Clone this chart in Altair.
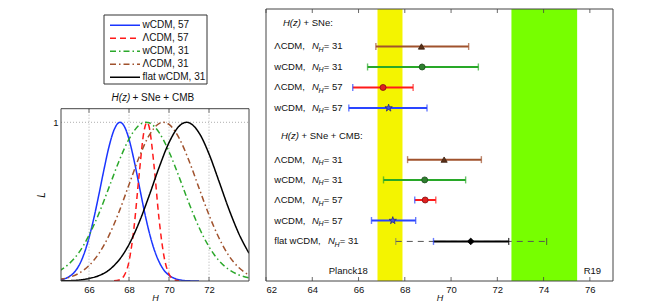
import altair as alt
import pandas as pd

FONT = "Liberation Sans"

# ---------------- left panel data: normalised likelihood L(H) ----------------
series_names = ["wCDM, 57", "ΛCDM, 57", "wCDM, 31", "ΛCDM, 31", "flat wCDM, 31"]
series_colors = ["#1a35ff", "#ff1a1a", "#2ba82b", "#a0522d", "#000000"]
series_dashes = [[1, 0], [6, 4], [6, 3, 1.5, 3], [6, 3, 1.5, 3], [1, 0]]

wcdm57_H = [64.5, 64.75, 65.0, 65.25, 65.5, 65.75, 66.0, 66.25, 66.5, 66.75, 67.0, 67.25, 67.55,
            67.75, 68.0, 68.25, 68.5, 68.75, 69.0, 69.25, 69.5, 69.75, 70.0, 70.25, 70.5, 70.75,
            71.0, 71.5]
wcdm57_L = [0.006, 0.013, 0.027, 0.053, 0.098, 0.170, 0.272, 0.40, 0.548, 0.703, 0.846, 0.951, 1.0,
            0.978, 0.894, 0.762, 0.607, 0.450, 0.312, 0.202, 0.122, 0.068, 0.036, 0.018, 0.008, 0.003,
            0.001, 0.0]

lcdm57_H = [67.25, 67.5, 67.75, 68.0, 68.25, 68.5, 68.75, 68.9, 69.0, 69.25, 69.5, 69.75, 70.0, 70.25, 70.5]
lcdm57_L = [0.001, 0.006, 0.033, 0.123, 0.336, 0.661, 0.943, 1.0, 0.975, 0.729, 0.394, 0.155, 0.044, 0.009, 0.001]

wcdm31_H = [64.5, 65.0, 65.5, 66.0, 66.5, 67.0, 67.5, 68.0, 68.5, 68.85, 69.0, 69.5, 70.0, 70.5,
            71.0, 71.5, 72.0, 72.5, 73.0, 73.5, 74.0]
wcdm31_L = [0.062, 0.108, 0.180, 0.288, 0.427, 0.590, 0.755, 0.894, 0.981, 1.0, 0.997, 0.937, 0.815,
            0.657, 0.490, 0.338, 0.216, 0.128, 0.072, 0.038, 0.020]

lcdm31_H = [64.5, 65.0, 65.5, 66.0, 66.5, 67.0, 67.5, 68.0, 68.5, 69.0, 69.5, 69.72, 70.0, 70.5,
            71.0, 71.5, 72.0, 72.5, 73.0, 73.5, 74.0]
lcdm31_L = [0.010, 0.023, 0.049, 0.097, 0.174, 0.287, 0.435, 0.607, 0.778, 0.916, 0.992, 1.0, 0.987,
            0.902, 0.758, 0.586, 0.416, 0.271, 0.158, 0.083, 0.038]

flat31_H = [64.5, 65.0, 65.5, 66.0, 66.5, 67.0, 67.5, 68.0, 68.5, 69.0, 69.5, 70.0, 70.5, 70.88,
            71.0, 71.5, 72.0, 72.5, 73.0, 73.5, 74.0]
flat31_L = [0.001, 0.002, 0.006, 0.016, 0.034, 0.069, 0.132, 0.230, 0.367, 0.535, 0.714, 0.872, 0.975,
            1.0, 0.997, 0.934, 0.801, 0.628, 0.451, 0.296, 0.175]

left_ticks = [66, 68, 70, 72]

# ---------------- right panel data: H constraints ----------------
row_prefix = ["ΛCDM,", "wCDM,", "ΛCDM,", "wCDM,", "ΛCDM,", "wCDM,", "ΛCDM,", "wCDM,", "flat wCDM,"]
row_nh = ["31", "31", "57", "57", "31", "31", "57", "57", "31"]
row_pos = [1.13, 2.13, 3.13, 4.13, 6.65, 7.64, 8.62, 9.62, 10.64]
row_mid = [68.72, 68.75, 67.06, 67.30, 69.70, 68.86, 68.88, 67.48, 70.85]
row_lo = [66.75, 66.39, 65.75, 65.58, 68.12, 67.08, 68.43, 66.56, 69.24]
row_hi = [70.76, 71.18, 68.36, 68.96, 71.31, 70.63, 69.34, 68.47, 72.49]
flat_wide_lo = [67.61]
flat_wide_hi = [74.13]
flat_wide_pos = [10.64]

header_pos = [0.0, 5.5]
header_head = ["H(z)", "H(z)"]
header_tail = ["+ SNe:", "+ SNe + CMB:"]

band_names = ["Planck18", "R19"]
band_lo = [66.82, 72.61]
band_hi = [67.90, 75.45]
band_label_pos = [12.1, 12.1]

right_ticks = [62, 64, 66, 68, 70, 72, 74, 76]

# ---------------- styles ----------------
BROWN, GREEN, RED, BLUE, BLACK = "#a0522d", "#28a828", "#ff1a1a", "#2a45ff", "#000000"
row_line_color = [BROWN, GREEN, RED, BLUE, BROWN, GREEN, RED, BLUE, BLACK]
row_cap_lo_color = [BROWN, GREEN, BLUE, BLUE, BROWN, GREEN, BLUE, BLUE, BLUE]
row_cap_hi_color = [BROWN, GREEN, RED, BLUE, BROWN, GREEN, RED, BLUE, BLACK]
STAR = ("M0,-1L0.2245,-0.309L0.951,-0.309L0.363,0.118L0.588,0.809L0,0.382L-0.588,0.809"
        "L-0.363,0.118L-0.951,-0.309L-0.2245,-0.309Z")
row_marker = ["triangle-up", "circle", "circle", STAR, "triangle-up", "circle", "circle", STAR, "diamond"]
row_mfill = ["#5a3016", "#2f7f2f", "#e02020", "#4455dd", "#5a3016", "#2f7f2f", "#e02020", "#4455dd", "#000000"]
row_medge = ["#3a2010", "#1d4d1d", "#801010", "#2a2a80", "#3a2010", "#1d4d1d", "#801010", "#2a2a80", "#000000"]
row_msize = [38, 36, 36, 60, 38, 36, 36, 60, 45]
band_colors = ["#f4f400", "#77ff00"]

W_L, W_R, H_ALL = 188, 347, 272
L_MAX = 1.714
LEFT_TOP_PX = 99.7
FRAME = "#444444"

one = pd.DataFrame({"k": [0]})

axis_x_common = dict(grid=False, domain=False, ticks=False, labelFont=FONT, labelFontSize=9.5,
                     labelPadding=3, labelColor="#111", title="H", titleFont=FONT,
                     titleFontStyle="italic", titleFontWeight="normal", titleFontSize=9,
                     titlePadding=0, titleColor="#111")

# ---------------- left panel ----------------
curve_frames = []
for name, hs, ls in zip(series_names,
                        [wcdm57_H, lcdm57_H, wcdm31_H, lcdm31_H, flat31_H],
                        [wcdm57_L, lcdm57_L, wcdm31_L, lcdm31_L, flat31_L]):
    curve_frames.append(pd.DataFrame({"series": name, "H": hs, "L": ls}))
curves = pd.concat(curve_frames, ignore_index=True)

xs_L = alt.Scale(domain=[64.6, 74.0], nice=False, zero=False)
ys_L = alt.Scale(domain=[0, L_MAX], nice=False, zero=False)
col_scale = alt.Scale(domain=series_names, range=series_colors)
dash_scale = alt.Scale(domain=series_names, range=series_dashes)

bg_left = alt.Chart(one).mark_rect(fill="white", opacity=0).encode(
    x=alt.value(0), x2=alt.value(W_L), y=alt.value(0), y2=alt.value(H_ALL))

tick_df_L = pd.DataFrame({"t": left_ticks})
grid_v = alt.Chart(tick_df_L).mark_rule(color="#9a9a9a", strokeDash=[1, 2], strokeWidth=0.8).encode(
    x=alt.X("t:Q", scale=xs_L), y=alt.value(LEFT_TOP_PX), y2=alt.value(H_ALL))
grid_h = alt.Chart(one).mark_rule(color="#9a9a9a", strokeDash=[1, 2], strokeWidth=0.8).encode(
    y=alt.datum(1, scale=ys_L), x=alt.value(0), x2=alt.value(W_L))
ticks_bot = alt.Chart(tick_df_L).mark_rule(color=FRAME, strokeWidth=0.8).encode(
    x=alt.X("t:Q", scale=xs_L), y=alt.value(H_ALL), y2=alt.value(H_ALL - 4))
ticks_top = alt.Chart(tick_df_L).mark_rule(color=FRAME, strokeWidth=0.8).encode(
    x=alt.X("t:Q", scale=xs_L), y=alt.value(LEFT_TOP_PX), y2=alt.value(LEFT_TOP_PX + 4))

lines = alt.Chart(curves).mark_line(strokeWidth=1.5, clip=True, interpolate="monotone").encode(
    x=alt.X("H:Q", scale=xs_L, axis=alt.Axis(values=left_ticks, **axis_x_common)),
    y=alt.Y("L:Q", scale=ys_L,
            axis=alt.Axis(values=[1], format="d", grid=False, domain=False, ticks=False,
                          labelFont=FONT, labelFontSize=9.5, labelPadding=3, labelColor="#111",
                          title=None)),
    color=alt.Color("series:N", scale=col_scale, legend=None),
    strokeDash=alt.StrokeDash("series:N", scale=dash_scale, legend=None),
)

frame_L = alt.Chart(one).mark_rect(fillOpacity=0, stroke=FRAME, strokeWidth=1).encode(
    x=alt.value(0), x2=alt.value(W_L), y=alt.value(LEFT_TOP_PX), y2=alt.value(H_ALL))

title_a = alt.Chart(one).mark_text(align="left", baseline="middle", font=FONT, fontSize=10,
                                   fontStyle="italic", color="#111").encode(
    x=alt.value(50.5), y=alt.value(88.7), text=alt.value("H(z)"))
title_b = alt.Chart(one).mark_text(align="left", baseline="middle", font=FONT, fontSize=10,
                                   color="#111").encode(
    x=alt.value(71.5), y=alt.value(88.7), text=alt.value("+ SNe + CMB"))
ylab = alt.Chart(one).mark_text(align="center", baseline="middle", font=FONT, fontSize=10,
                                fontStyle="italic", angle=270, color="#111").encode(
    x=alt.value(-19), y=alt.value(186), text=alt.value("L"))

leg_df = pd.DataFrame({"series": series_names,
                       "ly": [16.3 + 13 * i for i in range(len(series_names))]})
leg_box = alt.Chart(one).mark_rect(fill="white", stroke="#333333", strokeWidth=1).encode(
    x=alt.value(43), x2=alt.value(146), y=alt.value(6), y2=alt.value(75))
leg_lines = alt.Chart(leg_df).mark_rule(strokeWidth=1.5).encode(
    x=alt.value(49), x2=alt.value(79), y=alt.Y("ly:Q", scale=None),
    color=alt.Color("series:N", scale=col_scale, legend=None),
    strokeDash=alt.StrokeDash("series:N", scale=dash_scale, legend=None))
leg_text = alt.Chart(leg_df).mark_text(align="left", baseline="middle", font=FONT, fontSize=10,
                                       color="#111").encode(
    x=alt.value(81.5), y=alt.Y("ly:Q", scale=None), text="series:N")

left = alt.layer(bg_left, grid_v, grid_h, lines, ticks_bot, ticks_top, frame_L,
                 title_a, title_b, ylab, leg_box, leg_lines, leg_text).properties(
    width=W_L, height=H_ALL)

# ---------------- right panel ----------------
xs_R = alt.Scale(domain=[62, 77], nice=False, zero=False)
ys_R = alt.Scale(domain=[-0.698, 12.571], nice=False, zero=False, reverse=True)

bands = pd.DataFrame({"name": band_names, "lo": band_lo, "hi": band_hi, "pos": band_label_pos,
                      "lx": [62.7, 317.7], "bc": band_colors})
rows = pd.DataFrame({"prefix": row_prefix, "nh": row_nh, "pos": row_pos, "mid": row_mid,
                     "lo": row_lo, "hi": row_hi, "lc": row_line_color, "clo": row_cap_lo_color,
                     "chi": row_cap_hi_color, "marker": row_marker, "mfill": row_mfill,
                     "medge": row_medge, "msize": row_msize})
wide = pd.DataFrame({"lo": flat_wide_lo, "hi": flat_wide_hi, "pos": flat_wide_pos})
headers = pd.DataFrame({"pos": header_pos, "head": header_head, "tail": header_tail,
                        "hx": [17.0, 15.0]})

band_layer = alt.Chart(bands).mark_rect().encode(
    x=alt.X("lo:Q", scale=xs_R, axis=alt.Axis(values=right_ticks, **axis_x_common)),
    x2="hi:Q", y=alt.value(0), y2=alt.value(H_ALL),
    fill=alt.Fill("bc:N", scale=None))

band_text = alt.Chart(bands).mark_text(align="left", baseline="middle", font=FONT, fontSize=9.5,
                                       color="#111").encode(
    x=alt.X("lx:Q", scale=None), y=alt.Y("pos:Q", scale=ys_R, axis=None), text="name:N")

wide_rule = alt.Chart(wide).mark_rule(color="#555555", strokeWidth=1, strokeDash=[6, 5]).encode(
    x=alt.X("lo:Q", scale=xs_R), x2="hi:Q", y=alt.Y("pos:Q", scale=ys_R, axis=None))
wide_cap_lo = alt.Chart(wide).mark_tick(orient="vertical", size=7, thickness=1.2, color="#777777").encode(
    x=alt.X("lo:Q", scale=xs_R), y=alt.Y("pos:Q", scale=ys_R, axis=None))
wide_cap_hi = alt.Chart(wide).mark_tick(orient="vertical", size=7, thickness=1.2, color="#444444").encode(
    x=alt.X("hi:Q", scale=xs_R), y=alt.Y("pos:Q", scale=ys_R, axis=None))

bar_rule = alt.Chart(rows).mark_rule(strokeWidth=2).encode(
    x=alt.X("lo:Q", scale=xs_R), x2="hi:Q", y=alt.Y("pos:Q", scale=ys_R, axis=None),
    stroke=alt.Stroke("lc:N", scale=None))
cap_lo = alt.Chart(rows).mark_tick(orient="vertical", size=7, thickness=1.4).encode(
    x=alt.X("lo:Q", scale=xs_R), y=alt.Y("pos:Q", scale=ys_R, axis=None),
    fill=alt.Fill("clo:N", scale=None))
cap_hi = alt.Chart(rows).mark_tick(orient="vertical", size=7, thickness=1.4).encode(
    x=alt.X("hi:Q", scale=xs_R), y=alt.Y("pos:Q", scale=ys_R, axis=None),
    fill=alt.Fill("chi:N", scale=None))
markers = alt.Chart(rows).mark_point(filled=True, strokeWidth=0.8, opacity=1).encode(
    x=alt.X("mid:Q", scale=xs_R), y=alt.Y("pos:Q", scale=ys_R, axis=None),
    shape=alt.Shape("marker:N", scale=None),
    fill=alt.Fill("mfill:N", scale=None), stroke=alt.Stroke("medge:N", scale=None),
    size=alt.Size("msize:Q", scale=None))

txt_kw = dict(align="left", baseline="middle", font=FONT, color="#111")
rows_txt = rows.assign(nx=[46.0 if p != "flat wCDM," else 62.0 for p in row_prefix])
rows_txt = rows_txt.assign(hx=rows_txt["nx"] + 6.6, ex=rows_txt["nx"] + 11.8,
                           eq=["= " + n for n in row_nh], n="N", h="H")
lab_prefix = alt.Chart(rows_txt).mark_text(fontSize=9.5, **txt_kw).encode(
    x=alt.value(8.3), y=alt.Y("pos:Q", scale=ys_R, axis=None), text="prefix:N")
lab_n = alt.Chart(rows_txt).mark_text(fontSize=9.5, fontStyle="italic", **txt_kw).encode(
    x=alt.X("nx:Q", scale=None), y=alt.Y("pos:Q", scale=ys_R, axis=None), text="n:N")
lab_h = alt.Chart(rows_txt).mark_text(fontSize=7, fontStyle="italic", dy=3.5, **txt_kw).encode(
    x=alt.X("hx:Q", scale=None), y=alt.Y("pos:Q", scale=ys_R, axis=None), text="h:N")
lab_eq = alt.Chart(rows_txt).mark_text(fontSize=9.5, **txt_kw).encode(
    x=alt.X("ex:Q", scale=None), y=alt.Y("pos:Q", scale=ys_R, axis=None), text="eq:N")

hd = headers.assign(tx=headers["hx"] + 20.5)
head_a = alt.Chart(hd).mark_text(fontSize=9.5, fontStyle="italic", **txt_kw).encode(
    x=alt.X("hx:Q", scale=None), y=alt.Y("pos:Q", scale=ys_R, axis=None), text="head:N")
head_b = alt.Chart(hd).mark_text(fontSize=9.5, **txt_kw).encode(
    x=alt.X("tx:Q", scale=None), y=alt.Y("pos:Q", scale=ys_R, axis=None), text="tail:N")

tick_df_R = pd.DataFrame({"t": right_ticks})
rticks_bot = alt.Chart(tick_df_R).mark_rule(color=FRAME, strokeWidth=0.8).encode(
    x=alt.X("t:Q", scale=xs_R), y=alt.value(H_ALL), y2=alt.value(H_ALL - 4))
rticks_top = alt.Chart(tick_df_R).mark_rule(color=FRAME, strokeWidth=0.8).encode(
    x=alt.X("t:Q", scale=xs_R), y=alt.value(0), y2=alt.value(4))
frame_R = alt.Chart(one).mark_rect(fillOpacity=0, stroke=FRAME, strokeWidth=1).encode(
    x=alt.value(0), x2=alt.value(W_R), y=alt.value(0), y2=alt.value(H_ALL))

right = alt.layer(band_layer, band_text, wide_rule, wide_cap_lo, wide_cap_hi, bar_rule, cap_lo,
                  cap_hi, markers, lab_prefix, lab_n, lab_h, lab_eq, head_a, head_b,
                  rticks_bot, rticks_top, frame_R).properties(width=W_R, height=H_ALL)

chart = alt.hconcat(left, right, spacing=15).properties(
    padding={"left": 29, "top": 0, "right": 5, "bottom": 0},
    background="white",
).configure_view(stroke=None)

chart.save("out.html", embed_options={"renderer": "svg", "actions": False})
